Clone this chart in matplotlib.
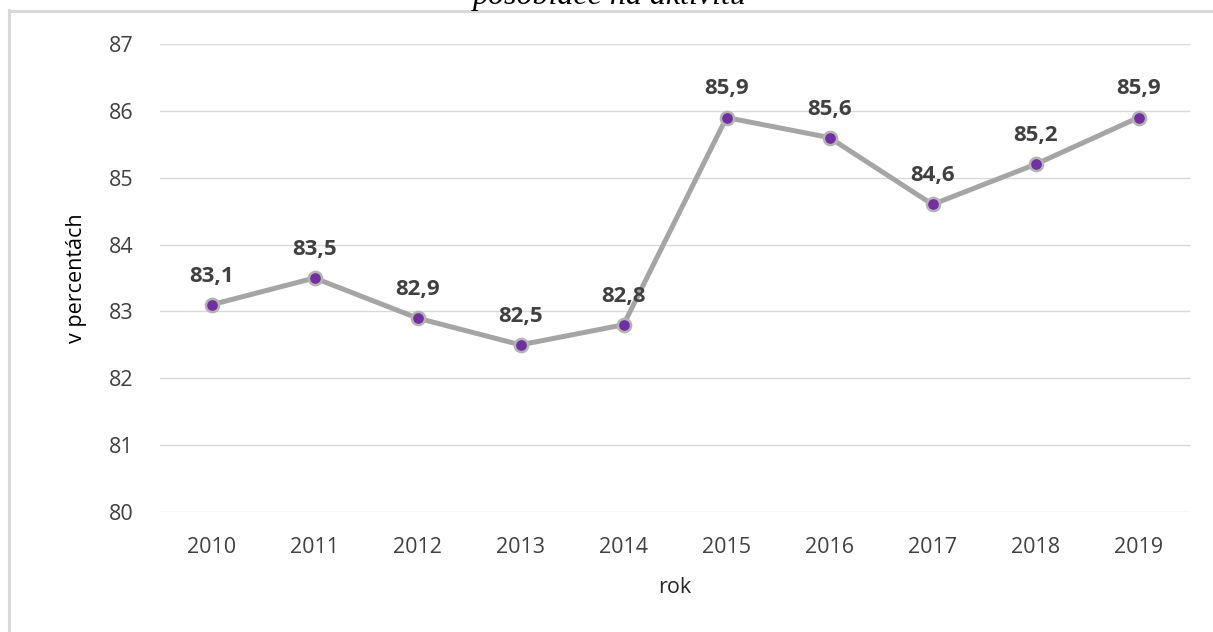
import matplotlib
matplotlib.use("Agg")
import matplotlib.pyplot as plt
from matplotlib.lines import Line2D

years = ["2010", "2011", "2012", "2013", "2014", "2015", "2016", "2017", "2018", "2019"]
values = [83.1, 83.5, 82.9, 82.5, 82.8, 85.9, 85.6, 84.6, 85.2, 85.9]
yticks = [80, 81, 82, 83, 84, 85, 86, 87]

W, H = 1213, 632
fig = plt.figure(figsize=(W / 100, H / 100), dpi=100)
fig.patch.set_facecolor("white")

font = ["Open Sans", "DejaVu Sans"]

# frame border (left and top)
fig.add_artist(Line2D([9 / W, 9 / W], [0, 1 - 10 / H], transform=fig.transFigure,
                      color="#d9d9d9", lw=2.2))
fig.add_artist(Line2D([9 / W, 1], [1 - 11 / H, 1 - 11 / H], transform=fig.transFigure,
                      color="#d9d9d9", lw=2.2))

# cropped caption at top (cut off in the reference as well)
fig.text(610 / W, 1 - 4 / H, "pôsobiace na aktivitu", ha="center", va="baseline",
         fontsize=23, style="italic", family=["Liberation Serif", "DejaVu Serif"],
         color="black")

ax = fig.add_axes([160 / W, 1 - 512 / H, 1030 / W, 468 / H])
x = list(range(len(years)))
ax.plot(x, values, color="#a5a5a5", lw=3.6, zorder=3, solid_capstyle="round")
ax.plot(x, values, ls="none", marker="o", ms=9.5, mfc="#7030a0", mec="#b4b4b4",
        mew=1.8, zorder=4)

for xi, v in zip(x, values):
    ax.annotate(f"{v:.1f}".replace(".", ","), (xi, v), xytext=(0, 13),
                textcoords="offset points", ha="center", va="bottom",
                fontsize=16, fontweight="bold", color="#404040", family=font)

ax.set_xlim(-0.5, len(years) - 0.5)
ax.set_ylim(80, 87)
ax.set_yticks(yticks)
ax.set_yticklabels([str(t) for t in yticks], family=font, fontsize=15.5, color="#404040")
ax.set_xticks(x)
ax.set_xticklabels(years, family=font, fontsize=15.5, color="#404040")
ax.tick_params(axis="both", length=0)
ax.tick_params(axis="y", pad=19)
ax.tick_params(axis="x", pad=18)
ax.grid(axis="y", color="#d9d9d9", lw=1)
ax.set_axisbelow(True)
for s in ax.spines.values():
    s.set_visible(False)

ax.set_ylabel("v percentách", family=font, fontsize=15.5, color="black", labelpad=16)
ax.set_xlabel("rok", family=font, fontsize=15.5, color="#262626", labelpad=14)

fig.savefig("out.png", dpi=100, facecolor="white")
